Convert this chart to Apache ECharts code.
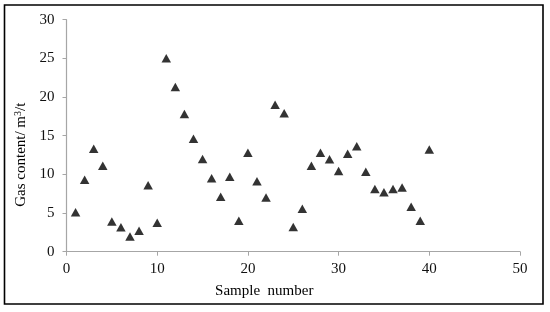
<!DOCTYPE html>
<html>
<head>
<meta charset="utf-8">
<script src="https://cdn.jsdelivr.net/npm/echarts@6/dist/echarts.min.js"></script>
<style>
html,body{margin:0;padding:0;background:#fff;}
#chart{width:550px;height:312px;}
</style>
</head>
<body>
<div id="chart"></div>
<script>
var sampleNumbers = [1,2,3,4,5,6,7,8,9,10,11,12,13,14,15,16,17,18,19,20,21,22,23,24,25,26,27,28,29,30,31,32,33,34,35,36,37,38,39,40];
var gasContent = [5.1,9.3,13.3,11.1,3.9,3.15,1.95,2.7,8.6,3.75,25.0,21.3,17.8,14.6,12.0,9.5,7.1,9.7,4.0,12.8,9.1,7.0,19.0,17.9,3.2,5.55,11.1,12.8,11.95,10.45,12.65,13.65,10.35,8.1,7.7,8.1,8.3,5.8,4.0,13.2];
var xTicks = {min:0, max:50, interval:10};
var yTicks = {min:0, max:30, interval:5};

var points = sampleNumbers.map(function(x,i){return [x, gasContent[i]];});
var font = '"Liberation Serif", "Times New Roman", serif';
var chart = echarts.init(document.getElementById('chart'));
chart.setOption({
  animation:false,
  backgroundColor:'#fff',
  grid:{left:66.5, right:30, top:19.7, bottom:60.3, containLabel:false},
  xAxis:{
    type:'value', min:xTicks.min, max:xTicks.max, interval:xTicks.interval,
    name:'Sample  number', nameLocation:'middle', nameGap:32,
    nameTextStyle:{fontFamily:font, fontSize:15, color:'#000', padding:[0,58,0,0]},
    axisLine:{show:true, lineStyle:{color:'#a6a6a6', width:1.2}},
    axisTick:{show:true, length:4, lineStyle:{color:'#a6a6a6'}},
    axisLabel:{fontFamily:font, fontSize:15, color:'#111', margin:10},
    splitLine:{show:false}
  },
  yAxis:{
    type:'value', min:yTicks.min, max:yTicks.max, interval:yTicks.interval,
    name:'{n|Gas content/ m}{s|3}{n|/t}', nameLocation:'middle', nameGap:37,
    nameTextStyle:{fontFamily:font, fontSize:15, color:'#000', padding:[0,38,0,0],
      rich:{n:{fontFamily:font, fontSize:15, color:'#000'}, s:{fontFamily:font, fontSize:10, color:'#000', verticalAlign:'top', padding:[0,0,6,0]}}},
    axisLine:{show:true, lineStyle:{color:'#a6a6a6', width:1.2}},
    axisTick:{show:true, length:4, lineStyle:{color:'#a6a6a6'}},
    axisLabel:{fontFamily:font, fontSize:15, color:'#111', margin:12},
    splitLine:{show:false}
  },
  graphic:[{type:'rect', shape:{x:4.5, y:5, width:538.5, height:299}, style:{fill:'none', stroke:'#000', lineWidth:1.6}, silent:true}],
  series:[{
    type:'scatter', data:points, symbol:'triangle', symbolSize:[9.5,8.5],
    itemStyle:{color:'#000'}
  }]
});
</script>
</body>
</html>
